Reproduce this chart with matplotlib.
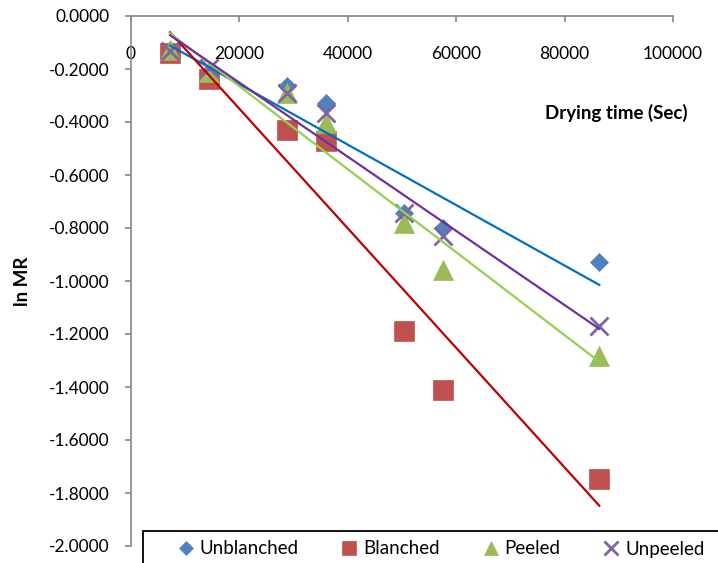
import numpy as np
import matplotlib
matplotlib.use("Agg")
import matplotlib.pyplot as plt
from matplotlib.patches import Rectangle

plt.rcParams['font.family'] = ['Lato', 'DejaVu Sans']

# drying time (s) and ln MR for each treatment
time_s = [7200, 14400, 28800, 36000, 50400, 57600, 86400]
unblanched = [-0.130, -0.210, -0.265, -0.328, -0.745, -0.800, -0.930]
blanched = [-0.140, -0.238, -0.430, -0.472, -1.190, -1.410, -1.747]
peeled = [-0.128, -0.212, -0.292, -0.405, -0.780, -0.960, -1.283]
unpeeled = [-0.132, -0.195, -0.292, -0.366, -0.745, -0.830, -1.170]

series = [
    ("Unblanched", unblanched, "D", 9.5, "#4F81BD", "#0070C0"),
    ("Blanched", blanched, "s", 14, "#C0504D", "#C00000"),
    ("Peeled", peeled, "^", 14.5, "#9BBB59", "#92D050"),
    ("Unpeeled", unpeeled, "x", 13.5, "#8064A2", "#7030A0"),
]

fig = plt.figure(figsize=(7.18, 5.63), dpi=100)
ax = fig.add_axes([131 / 718, 1 - 546 / 563, 542 / 718, 530 / 563])

x = np.array(time_s, dtype=float)
handles = []
for i, (name, y, mk, ms, mcol, lcol) in enumerate(series):
    if mk == "x":
        h, = ax.plot(x, y, mk, ms=ms, mew=2, color=mcol, label=name, zorder=3 + i)
    else:
        h, = ax.plot(x, y, mk, ms=ms, color=mcol, mec=mcol, mew=0.5, label=name,
                     zorder=3 + i)
    handles.append(h)

# linear trendlines over the data range
for name, y, mk, ms, mcol, lcol in series:
    k, b = np.polyfit(x, y, 1)
    xs = np.array([x.min(), x.max()])
    ax.plot(xs, k * xs + b, "-", color=lcol, lw=1.6, zorder=10)

ax.set_xlim(0, 100000)
ax.set_ylim(-2, 0)
ax.set_xticks(np.arange(0, 100001, 20000))
yt = np.round(np.arange(-2.0, 0.01, 0.2), 1)
ax.set_yticks(yt)
ax.set_yticklabels([f"{v + 0:.4f}" for v in yt])

for s in ["right", "bottom"]:
    ax.spines[s].set_visible(False)
for s in ["left", "top"]:
    ax.spines[s].set_color("#868686")
    ax.spines[s].set_linewidth(1.2)

ax.tick_params(axis="x", top=True, bottom=False, labeltop=True, labelbottom=False,
               direction="in", length=4.5, width=1.2, color="#868686", pad=-33,
               labelsize=12.5)
ax.tick_params(axis="y", direction="out", length=4.5, width=1.2, color="#868686",
               pad=11, labelsize=12.5)

fig.text(616 / 718, 1 - 113 / 563, "Drying time (Sec)", ha="center", va="center",
         fontsize=13.5, fontweight="bold")
fig.text(23 / 718, 1 - 281 / 563, "ln MR", ha="center", va="center", rotation=90,
         fontsize=13.5, fontweight="bold")

# legend box, running off the right and bottom edges
fig.patches.append(Rectangle((143 / 718, -0.1), 1.0, 0.1 + (563 - 531) / 563,
                             transform=fig.transFigure, fill=False,
                             edgecolor="black", lw=1.3, clip_on=False))
fig.legend(handles=handles, loc="center left", ncol=4, frameon=False,
           bbox_to_anchor=(178 / 718, 1 - 549 / 563), fontsize=13.5,
           markerscale=0.7, handlelength=0.8, handletextpad=0.35,
           columnspacing=2.3, borderpad=0, borderaxespad=0)

fig.savefig("out.png", dpi=100)
